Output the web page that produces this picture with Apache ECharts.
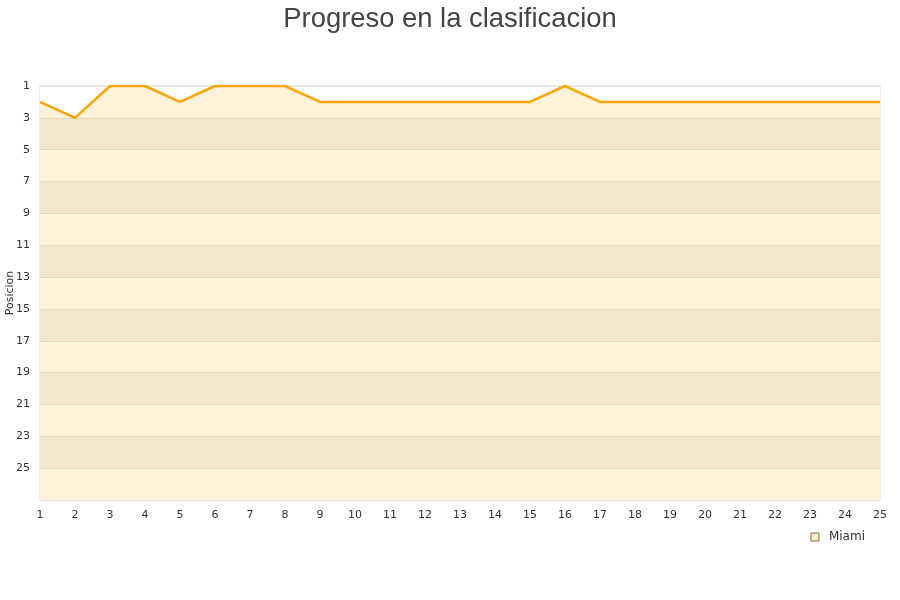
<!DOCTYPE html>
<html><head><meta charset="utf-8">
<script src="https://cdn.jsdelivr.net/npm/echarts@6/dist/echarts.min.js"></script>
<style>html,body{margin:0;padding:0;background:#fff}#c{width:900px;height:600px}</style>
</head><body><div id="c"></div>
<script>
var jornadas = ['1','2','3','4','5','6','7','8','9','10','11','12','13','14','15','16','17','18','19','20','21','22','23','24','25'];
var posiciones = ['1','2','3','4','5','6','7','8','9','10','11','12','13','14','15','16','17','18','19','20','21','22','23','24','25','26','27'];
var miami = [2,3,1,1,2,1,1,1,2,2,2,2,2,2,2,1,2,2,2,2,2,2,2,2,2];

var chart = echarts.init(document.getElementById('c'), null, {renderer:'canvas'});
chart.setOption({
  animation:false,
  title:{text:'Progreso en la clasificacion', left:'center', top:1,
    textStyle:{fontFamily:'Liberation Sans', fontSize:27.4, fontWeight:'normal', color:'#444'}},
  grid:{left:40, right:20, top:86, bottom:100, show:true, borderColor:'#ddd', borderWidth:1,
    containLabel:false, outerBoundsMode:'none'},
  legend:{right:30, top:526, itemWidth:8, itemHeight:8, icon:'rect', itemGap:10,
    textStyle:{fontFamily:'DejaVu Sans', fontSize:12, color:'#333', padding:[0,0,0,5]},
    data:[{name:'Miami', itemStyle:{color:'#FFECCB', borderColor:'#8a6a3a', borderWidth:1}}]},
  xAxis:{type:'category', data:jornadas, boundaryGap:false,
    axisLine:{show:false}, axisTick:{show:false}, splitLine:{show:false},
    axisLabel:{color:'#333', fontFamily:'DejaVu Sans', fontSize:11, margin:10, interval:0}},
  yAxis:{type:'category', data:posiciones, inverse:true, boundaryGap:false,
    name:'Posicion', nameLocation:'middle', nameGap:24, nameMoveOverlap:false,
    nameTextStyle:{color:'#333', fontFamily:'DejaVu Sans', fontSize:11},
    axisLine:{show:false}, axisTick:{show:false},
    axisLabel:{color:'#333', fontFamily:'DejaVu Sans', fontSize:11, margin:10,
      interval:function(i){return i%2===0 && i<26;}},
    splitLine:{show:true, interval:1, lineStyle:{color:'#dfdfde', width:1}},
    splitArea:{show:true, interval:1, areaStyle:{color:['rgba(255,255,255,1)','rgba(240,240,238,1)']}}},
  series:[{name:'Miami', type:'line', data:miami.map(String), symbol:'none',
    lineStyle:{color:'#FFA500', width:2.5}, itemStyle:{color:'#FFA500'},
    areaStyle:{color:'rgba(255,192,82,0.3)', origin:'end'}}]
});
</script></body></html>
